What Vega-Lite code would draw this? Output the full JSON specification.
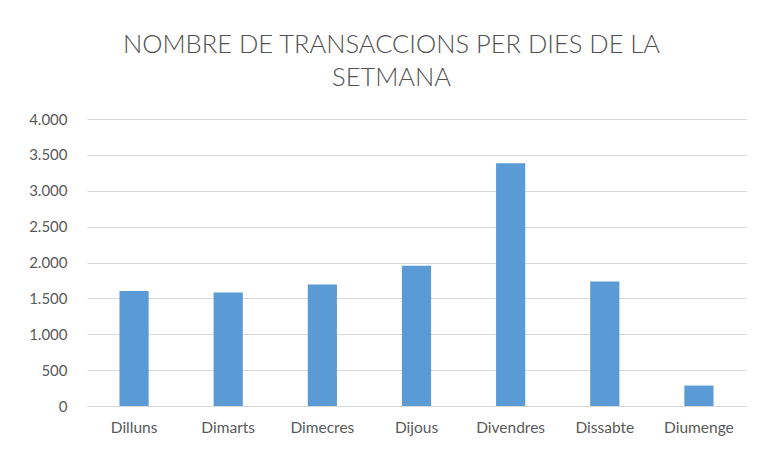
{
  "$schema": "https://vega.github.io/schema/vega-lite/v6.json",
  "width": 659,
  "height": 287,
  "autosize": {"type": "none"},
  "padding": {"left": 87, "top": 119, "right": 11, "bottom": 43},
  "background": "white",
  "title": {
    "text": ["NOMBRE DE TRANSACCIONS PER DIES DE LA", "SETMANA"],
    "anchor": "middle",
    "frame": "group",
    "dx": -25,
    "offset": 21,
    "font": "Lato",
    "fontWeight": 300,
    "fontSize": 25.5,
    "lineHeight": 33,
    "color": "#505050"
  },
  "data": {
    "values": [
      {"dia": "Dilluns", "transaccions": 1604},
      {"dia": "Dimarts", "transaccions": 1582},
      {"dia": "Dimecres", "transaccions": 1694},
      {"dia": "Dijous", "transaccions": 1953},
      {"dia": "Divendres", "transaccions": 3382},
      {"dia": "Dissabte", "transaccions": 1736},
      {"dia": "Diumenge", "transaccions": 285}
    ]
  },
  "mark": {"type": "bar", "color": "#5B9BD5"},
  "encoding": {
    "x": {
      "field": "dia",
      "type": "nominal",
      "sort": null,
      "title": null,
      "scale": {"paddingInner": 0.69, "paddingOuter": 0.345},
      "axis": {
        "labelAngle": 0,
        "labelFont": "Lato",
        "labelFontSize": 15.5,
        "labelColor": "#595959",
        "labelPadding": 14,
        "ticks": false,
        "domainColor": "#D9D9D9",
        "domainWidth": 1
      }
    },
    "y": {
      "field": "transaccions",
      "type": "quantitative",
      "title": null,
      "scale": {"domain": [0, 4000]},
      "axis": {
        "values": [0, 500, 1000, 1500, 2000, 2500, 3000, 3500, 4000],
        "format": ",.0f",
        "labelExpr": "replace(datum.label, ',', '.')",
        "labelFont": "Lato",
        "labelFontSize": 15,
        "labelColor": "#595959",
        "labelPadding": 20,
        "ticks": false,
        "domain": false,
        "gridColor": "#D9D9D9",
        "gridWidth": 1
      }
    }
  },
  "config": {"view": {"stroke": null}}
}
